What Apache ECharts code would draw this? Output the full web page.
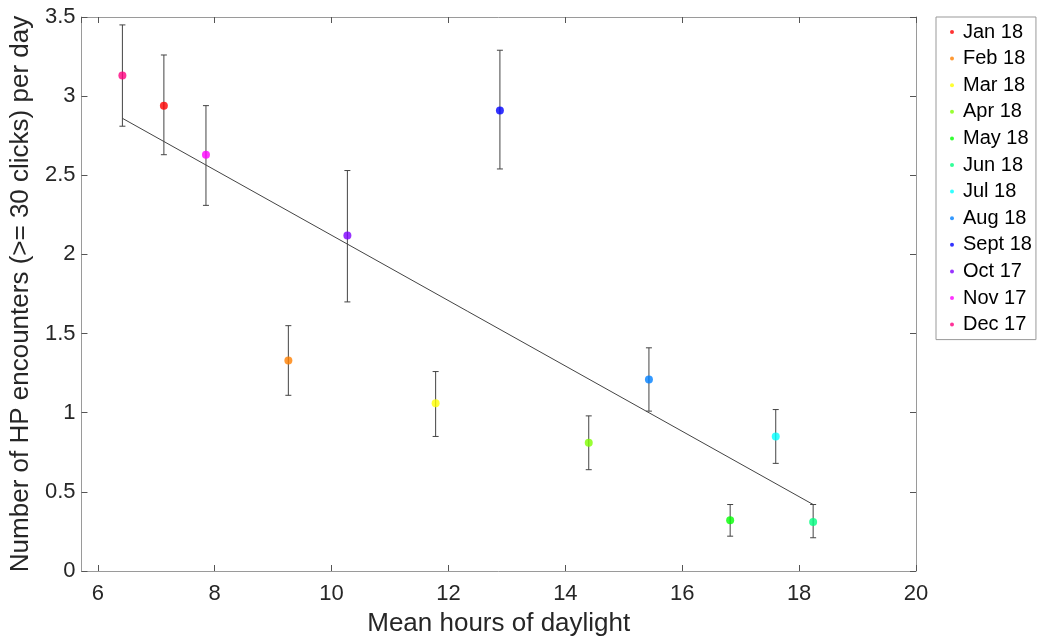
<!DOCTYPE html>
<html>
<head>
<meta charset="utf-8">
<script src="https://cdn.jsdelivr.net/npm/echarts@6/dist/echarts.min.js"></script>
<style>
html,body{margin:0;padding:0;background:#fff;}
#chart{width:1041px;height:642px;}
</style>
</head>
<body>
<div id="chart"></div>
<script>
const months = ['Jan 18','Feb 18','Mar 18','Apr 18','May 18','Jun 18','Jul 18','Aug 18','Sept 18','Oct 17','Nov 17','Dec 17'];
const daylight = [7.13, 9.26, 11.78, 14.40, 16.82, 18.24, 17.60, 15.43, 12.88, 10.27, 7.85, 6.42];
const encounters = [2.94, 1.33, 1.06, 0.81, 0.32, 0.31, 0.85, 1.21, 2.91, 2.12, 2.63, 3.13];
const errLow = [2.63, 1.11, 0.85, 0.64, 0.22, 0.21, 0.68, 1.01, 2.54, 1.70, 2.31, 2.81];
const errHigh = [3.26, 1.55, 1.26, 0.98, 0.42, 0.42, 1.02, 1.41, 3.29, 2.53, 2.94, 3.45];
const colors = ['#ff0000','#ff8000','#ffff00','#80ff00','#00ff00','#00ff80','#00ffff','#0080ff','#0000ff','#8000ff','#ff00ff','#ff0080'];
const trendX = [6.42, 18.24];
const trendY = [2.86, 0.42];
const yTicks = ['0','0.5','1','1.5','2','2.5','3','3.5'];

const FONT = '"Liberation Sans", Arial, sans-serif';
const TXT = '#262626';
const LINE = '#9a9a9a';
const TICK = '#555';

const chart = echarts.init(document.getElementById('chart'), null, {renderer:'canvas'});

const errData = daylight.map((x, i) => [x, errLow[i], errHigh[i]]);

const series = [];
series.push({
  type: 'custom',
  name: 'err',
  xAxisIndex: 0, yAxisIndex: 0,
  silent: true,
  z: 2,
  data: errData,
  renderItem: function (params, api) {
    const x = api.value(0);
    const lo = api.coord([x, api.value(1)]);
    const hi = api.coord([x, api.value(2)]);
    const cap = 3;
    const st = {stroke: '#444', lineWidth: 1};
    return {
      type: 'group',
      children: [
        {type:'line', shape:{x1:lo[0], y1:lo[1], x2:hi[0], y2:hi[1]}, style: st},
        {type:'line', shape:{x1:lo[0]-cap, y1:lo[1], x2:lo[0]+cap, y2:lo[1]}, style: st},
        {type:'line', shape:{x1:hi[0]-cap, y1:hi[1], x2:hi[0]+cap, y2:hi[1]}, style: st}
      ]
    };
  }
});
series.push({
  type: 'line',
  name: 'trend',
  silent: true,
  z: 3,
  showSymbol: false,
  symbol: 'none',
  lineStyle: {color: '#444', width: 1},
  data: trendX.map((x, i) => [x, trendY[i]])
});
months.forEach((m, i) => {
  series.push({
    type: 'scatter',
    name: m,
    z: 5,
    symbol: 'circle',
    symbolSize: 8,
    itemStyle: {color: colors[i]},
    data: [[daylight[i], encounters[i]]]
  });
});

const option = {
  backgroundColor: '#fff',
  animation: false,
  textStyle: {fontFamily: FONT},
  grid: {left: 78, top: 17, right: 125, bottom: 70, containLabel: false},
  legend: {
    data: months.map((m, i) => ({name: m, itemStyle: {color: colors[i]}})),
    orient: 'vertical',
    left: 936, top: 17,
    icon: 'circle',
    itemWidth: 12, itemHeight: 4,
    itemGap: 6.6,
    padding: [5, 4, 5, 14],
    borderColor: '#999', borderWidth: 1,
    backgroundColor: '#fff',
    selectedMode: false,
    textStyle: {fontFamily: FONT, fontSize: 20, color: '#000', lineHeight: 20}
  },
  xAxis: [{
    type: 'value',
    min: 5.72, max: 20,
    splitNumber: 7,
    name: 'Mean hours of daylight',
    nameLocation: 'middle',
    nameGap: 40,
    nameTextStyle: {fontFamily: FONT, fontSize: 26, color: TXT, verticalAlign: 'top'},
    axisLine: {show: true, onZero: false, lineStyle: {color: LINE, width: 1}},
    axisTick: {show: true, inside: true, length: 6, lineStyle: {color: TICK, width: 1}},
    axisLabel: {fontFamily: FONT, fontSize: 22, color: TXT, margin: 12, showMinLabel: false,
      formatter: v => (Math.abs(v - Math.round(v)) < 1e-6 && Math.round(v) % 2 === 0) ? String(Math.round(v)) : ''},
    splitLine: {show: false}
  }, {
    type: 'value',
    position: 'top',
    min: 5.72, max: 20,
    splitNumber: 7,
    axisLine: {show: true, onZero: false, lineStyle: {color: LINE, width: 1}},
    axisTick: {show: true, inside: true, length: 6, lineStyle: {color: TICK, width: 1}},
    axisLabel: {show: false},
    splitLine: {show: false}
  }],
  yAxis: [{
    type: 'value',
    min: 0, max: 3.5, interval: 0.5,
    name: 'Number of HP encounters (>= 30 clicks) per day',
    nameLocation: 'middle',
    nameGap: 42,
    nameTextStyle: {fontFamily: FONT, fontSize: 26, color: TXT},
    axisLine: {show: true, onZero: false, lineStyle: {color: LINE, width: 1}},
    axisTick: {show: true, inside: true, length: 6, lineStyle: {color: TICK, width: 1}},
    axisLabel: {fontFamily: FONT, fontSize: 22, color: TXT, margin: 6,
      formatter: (v) => { const idx = Math.round(v / 0.5); return yTicks[idx] !== undefined ? yTicks[idx] : ''; }},
    splitLine: {show: false}
  }, {
    type: 'value',
    position: 'right',
    min: 0, max: 3.5, interval: 0.5,
    axisLine: {show: true, onZero: false, lineStyle: {color: LINE, width: 1}},
    axisTick: {show: true, inside: true, length: 6, lineStyle: {color: TICK, width: 1}},
    axisLabel: {show: false},
    splitLine: {show: false}
  }],
  series: series
};
chart.setOption(option);
</script>
</body>
</html>
